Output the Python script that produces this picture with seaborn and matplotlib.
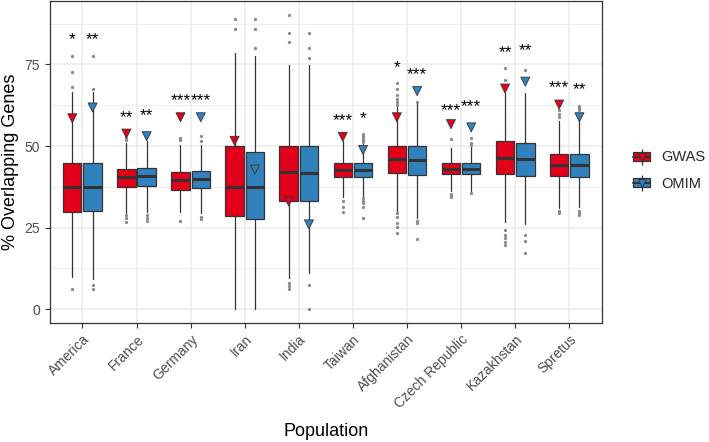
import pandas as pd
import matplotlib.pyplot as plt
import seaborn as sns
from matplotlib.lines import Line2D
from matplotlib.patches import Patch
from matplotlib.transforms import offset_copy

populations = ['America', 'France', 'Germany', 'Iran', 'India', 'Taiwan',
               'Afghanistan', 'Czech Republic', 'Kazakhstan', 'Spretus']
groups = ['GWAS', 'OMIM']

# box statistics (% overlapping genes)
gwas_q1 = [29.9, 37.5, 36.5, 28.6, 33.2, 40.4, 41.8, 41.3, 41.4, 40.8]
gwas_med = [37.4, 40.5, 39.6, 37.5, 42.1, 42.6, 46.1, 42.9, 46.2, 44.2]
gwas_q3 = [44.7, 42.9, 42.1, 50.0, 50.0, 44.9, 50.0, 44.7, 51.5, 47.6]
gwas_lo = [9.8, 29.6, 29.9, 0.0, 9.7, 34.5, 29.9, 36.3, 26.6, 30.9]
gwas_hi = [66.6, 51.0, 50.2, 78.6, 74.8, 51.6, 61.8, 49.5, 66.6, 57.8]
gwas_out = [[77.6, 72.6, 68.0, 6.3],
            [51.8, 52.4, 28.8, 27.9, 26.8],
            [51.9, 52.5, 27.1],
            [85.7, 88.9],
            [81.7, 84.5, 90.1, 7.9, 7.1, 6.2],
            [33.2, 31.4, 29.9],
            [62.5, 63.5, 64.5, 65.5, 67.4, 69.2, 29.4, 28.2, 26.3, 25.3, 23.4],
            [52.0, 35.4, 34.9, 34.5],
            [70.2, 74.0, 24.3, 22.7, 21.7, 20.7, 19.7],
            [58.9, 59.9, 60.9, 30.2, 29.4]]

omim_q1 = [30.2, 37.7, 37.0, 27.6, 33.2, 40.6, 41.1, 41.3, 40.8, 40.6]
omim_med = [37.4, 40.8, 39.9, 37.5, 41.6, 42.6, 45.6, 42.9, 45.9, 44.2]
omim_q3 = [44.9, 43.2, 42.4, 48.1, 50.0, 44.7, 50.0, 44.7, 51.0, 47.4]
omim_lo = [9.2, 29.9, 29.4, 0.0, 11.0, 34.6, 27.8, 36.3, 26.1, 31.2]
omim_hi = [66.6, 51.4, 50.4, 77.5, 74.8, 50.5, 63.1, 49.7, 66.3, 57.6]
omim_out = [[67.5, 77.6, 7.4, 6.3],
            [28.8, 27.9, 27.0],
            [51.5, 53.0, 28.4, 27.5],
            [79.9, 85.7, 88.9],
            [76.8, 79.9, 84.5, 7.4, 0.0],
            [51.2, 51.8, 52.4, 53.0, 53.7, 34.0, 33.2, 32.4, 31.4, 27.9],
            [63.6, 27.0, 26.3, 21.6],
            [50.2, 50.9, 52.3, 35.6],
            [73.2, 22.7, 21.0, 17.1],
            [61.0, 61.7, 62.4, 30.1, 29.5, 28.8]]

# observed values (triangles) and significance labels
gwas_obs = [58.5, 53.8, 58.8, 51.6, 33.0, 52.8, 58.8, 56.7, 67.6, 62.7]
omim_obs = [61.8, 53.0, 58.8, 42.8, 26.0, 48.8, 66.8, 55.7, 69.7, 58.8]
gwas_sig = ['*', '**', '***', '', '', '***', '*', '***', '**', '***']
omim_sig = ['**', '**', '***', '', '', '*', '***', '***', '**', '**']
gwas_sig_y = [83.7, 59.7, 64.9, 0, 0, 59.0, 75.1, 62.0, 79.6, 69.0]
omim_sig_y = [83.7, 60.4, 64.9, 0, 0, 59.4, 73.0, 63.0, 80.3, 68.4]

colors = {'GWAS': '#E2001A', 'OMIM': '#3181BD'}
dark = '#333333'

sns.set_theme(style='whitegrid')
plt.rcParams['font.family'] = ['Liberation Sans', 'DejaVu Sans']

fig = plt.figure(figsize=(7.09, 4.42), dpi=100)
ax = fig.add_axes([0.0705, 0.2685, 0.7782, 0.7292])

dodge = 0.1875
series = {
    'GWAS': (gwas_q1, gwas_med, gwas_q3, gwas_lo, gwas_hi, gwas_out, gwas_obs, gwas_sig, gwas_sig_y),
    'OMIM': (omim_q1, omim_med, omim_q3, omim_lo, omim_hi, omim_out, omim_obs, omim_sig, omim_sig_y),
}

# stars are placed on their baseline, shifted down so the glyph centre sits at the value
star_tf = offset_copy(ax.transData, fig=fig, y=-5.8, units='points')

rows = []
for k, g in enumerate(groups):
    q1, med, q3, lo, hi, out, obs, sig, sig_y = series[g]
    off = -dodge if k == 0 else dodge
    stats = [dict(q1=q1[i], med=med[i], q3=q3[i], whislo=lo[i], whishi=hi[i], fliers=out[i])
             for i in range(len(populations))]
    pos = [i + off for i in range(len(populations))]
    ax.bxp(stats, positions=pos, widths=0.34, patch_artist=True, showcaps=False,
           boxprops=dict(facecolor=colors[g], edgecolor=dark, linewidth=0.9),
           medianprops=dict(color=dark, linewidth=2.2),
           whiskerprops=dict(color=dark, linewidth=0.9),
           flierprops=dict(marker='o', markersize=2.4, markerfacecolor='#8C8C8C',
                           markeredgecolor='none'),
           zorder=2)
    for i in range(len(populations)):
        rows.append({'pos': pos[i], 'value': obs[i], 'group': g})
        if sig[i]:
            ax.text(pos[i], sig_y[i], sig[i], ha='center', va='baseline', fontsize=12.5,
                    color='black', zorder=5, transform=star_tf)

tri = pd.DataFrame(rows)
sns.scatterplot(data=tri, x='pos', y='value', hue='group', palette=colors, marker='v',
                s=42, edgecolor=dark, linewidth=0.6, legend=False, ax=ax, zorder=4)

ax.set_xlim(-0.6, 9.6)
ax.set_ylim(-4.3, 94.4)
ax.set_xticks(range(len(populations)))
ax.set_xticklabels(populations, rotation=45, ha='right', va='top', rotation_mode='anchor')
ax.set_yticks([0, 25, 50, 75])
ax.set_yticks([12.5, 37.5, 62.5, 87.5], minor=True)
ax.grid(True, which='major', color='#EBEBEB', linewidth=1.1)
ax.grid(True, which='minor', axis='y', color='#EBEBEB', linewidth=0.6)
ax.set_axisbelow(True)
ax.set_facecolor('white')
for s in ax.spines.values():
    s.set_color(dark)
    s.set_linewidth(0.9)
ax.tick_params(axis='both', which='major', direction='out', length=3.3, width=0.8,
               color=dark, labelcolor='#4D4D4D', labelsize=10, pad=3,
               bottom=True, left=True)
ax.tick_params(axis='y', which='major', pad=4)
ax.tick_params(axis='both', which='minor', length=0)

ax.set_xlabel('Population', fontsize=13, color='black', va='baseline')
ax.xaxis.set_label_coords(0.5, -0.3487)
ax.set_ylabel('% Overlapping Genes', fontsize=13, color='black')
ax.yaxis.set_label_coords(-0.0565, 0.5)

handles = []
for g in groups:
    whisk = Line2D([], [], ls='none', marker='|', ms=11.5, mew=0.9, color=dark)
    box = Patch(facecolor=colors[g], edgecolor=dark, linewidth=0.9)
    med = Line2D([], [], color=dark, linewidth=1.4)
    mark = Line2D([], [], ls='none', marker='v', ms=5.5, mfc=colors[g], mec=dark, mew=0.6)
    handles.append((whisk, box, med, mark))
fig.legend(handles, groups, loc='center left', bbox_to_anchor=(633 / 709, 0.614),
           frameon=False, fontsize=10.5, handlelength=1.17, handleheight=0.55,
           handletextpad=0.8, labelspacing=0.85, borderpad=0, borderaxespad=0)

fig.savefig('out.png', dpi=100)
